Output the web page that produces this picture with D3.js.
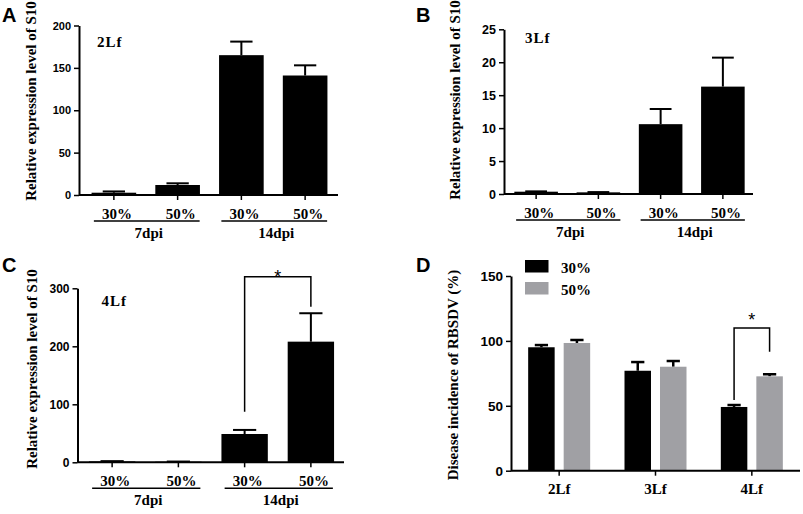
<!DOCTYPE html>
<html><head><meta charset="utf-8">
<script src="https://cdn.jsdelivr.net/npm/d3@7"></script>
<style>body{margin:0;background:#fff}svg{display:block}</style>
</head><body>
<svg id="chart" width="803" height="514"></svg>
<script>
// ---------- DATA ----------
const treatLabels = ["30%", "50%", "30%", "50%"];
const dpiLabels = ["7dpi", "14dpi"];

const s10_2Lf = [2.7, 11.8, 165, 141];
const s10_2Lf_err = [1.5, 2.0, 16, 12];
const s10_3Lf = [0.35, 0.25, 10.6, 16.3];
const s10_3Lf_err = [0.05, 0.04, 2.3, 4.4];
const s10_4Lf = [1.5, 1.0, 48.8, 208];
const s10_4Lf_err = [0.5, 0.3, 7, 49];

const ticksA = [0, 50, 100, 150, 200];
const ticksB = [0, 5, 10, 15, 20, 25];
const ticksC = [0, 100, 200, 300];
const ticksD = [0, 50, 100, 150];

const leafStages = ["2Lf", "3Lf", "4Lf"];
const shadeLabels = ["30%", "50%"];
const incidence30 = [95.1, 77.0, 49.1];
const incidence30_err = [1.7, 6.7, 1.5];
const incidence50 = [98.4, 80.1, 72.7];
const incidence50_err = [2.3, 4.4, 1.6];

const sigC = {from: 2, to: 3, top: 320, legs: [87, 268]};
const sigD = {stage: "4Lf", top: 110, legs: [54.5, 91.7]};

// ---------- DRAW ----------
const svg = d3.select("#chart");
const SERIF = "'Liberation Serif','Times New Roman',serif";
const SANS = "'Liberation Sans',Arial,sans-serif";

function panelLetter(t, x, y) {
  svg.append("text").attr("x", x).attr("y", y).text(t)
    .attr("font-family", SANS).attr("font-weight", "bold").attr("font-size", 20);
}

function yTitle(t, x, y) {
  svg.append("text").attr("transform", `translate(${x},${y}) rotate(-90)`)
    .attr("text-anchor", "middle").attr("dominant-baseline", "central")
    .attr("font-family", SERIF).attr("font-weight", "bold").attr("font-size", 15)
    .text(t);
}

function yAxis(y, axisX, ticks, fs) {
  const g = svg.append("g").attr("transform", `translate(${axisX},0)`)
    .call(d3.axisLeft(y).tickValues(ticks).tickSize(5).tickSizeOuter(0).tickPadding(3));
  g.select(".domain").attr("stroke", "#000").attr("stroke-width", 2);
  g.selectAll(".tick line").attr("stroke", "#000").attr("stroke-width", 1.5);
  g.selectAll(".tick text").attr("font-family", SANS).attr("font-weight", "bold")
    .attr("font-size", fs).attr("fill", "#000");
}

function xAxisLine(x0, x1, yv, tickXs) {
  svg.append("line").attr("x1", x0).attr("x2", x1).attr("y1", yv).attr("y2", yv)
    .attr("stroke", "#000").attr("stroke-width", 2);
  tickXs.forEach(tx => svg.append("line").attr("x1", tx).attr("x2", tx)
    .attr("y1", yv).attr("y2", yv + 5).attr("stroke", "#000").attr("stroke-width", 1.5));
}

function expressionPanel(cfg) {
  const {vals, errs, ticks, yTop, yBot, axisX, axisEnd, bandRange, fs, lf, lfX, lfY} = cfg;
  const y = d3.scaleLinear().domain([0, ticks[ticks.length - 1]]).range([yBot, yTop]);
  const x = d3.scaleBand().domain(d3.range(vals.length)).range(bandRange)
    .paddingInner(0.3).paddingOuter(0.15);
  const bw = x.bandwidth();
  const cx = i => x(i) + bw / 2;

  // error bars (upper only)
  vals.forEach((v, i) => {
    const top = y(v + errs[i]);
    svg.append("line").attr("x1", cx(i)).attr("x2", cx(i)).attr("y1", y(v)).attr("y2", top)
      .attr("stroke", "#000").attr("stroke-width", 2);
    svg.append("line").attr("x1", cx(i) - bw / 4).attr("x2", cx(i) + bw / 4)
      .attr("y1", top).attr("y2", top).attr("stroke", "#000").attr("stroke-width", 2);
  });
  svg.append("g").selectAll("rect").data(vals).join("rect")
    .attr("x", (d, i) => x(i)).attr("width", bw)
    .attr("y", d => y(d)).attr("height", d => y(0) - y(d)).attr("fill", "#000");

  xAxisLine(axisX, axisEnd, yBot, vals.map((d, i) => cx(i)));
  yAxis(y, axisX, ticks, fs);

  // treatment labels
  treatLabels.forEach((t, i) => {
    svg.append("text").attr("x", cx(i) + 3).attr("y", yBot + 23.5).attr("text-anchor", "middle")
      .attr("font-family", SERIF).attr("font-weight", "bold").attr("font-size", 15).text(t);
  });
  dpiLabels.forEach((t, k) => {
    const a = cx(2 * k), b = cx(2 * k + 1);
    svg.append("line").attr("x1", a - 20).attr("x2", b + 22)
      .attr("y1", yBot + 26).attr("y2", yBot + 26).attr("stroke", "#000").attr("stroke-width", 1.5);
    svg.append("text").attr("x", (a + b) / 2 + 3).attr("y", yBot + 43).attr("text-anchor", "middle")
      .attr("font-family", SERIF).attr("font-weight", "bold").attr("font-size", 15).text(t);
  });

  svg.append("text").attr("x", lfX).attr("y", lfY).text(lf)
    .attr("font-family", SERIF).attr("font-weight", "bold").attr("font-size", 15)
    .attr("letter-spacing", 1);

  return {x, y, cx};
}

// Panel A
panelLetter("A", 2, 22);
yTitle("Relative expression level of S10", 31, 101);
expressionPanel({vals: s10_2Lf, errs: s10_2Lf_err, ticks: ticksA, yTop: 25.5, yBot: 195,
  axisX: 79, axisEnd: 338, bandRange: [82, 337], fs: 11, lf: "2Lf", lfX: 97, lfY: 47});

// Panel B
panelLetter("B", 416, 22);
yTitle("Relative expression level of S10", 454.5, 100);
expressionPanel({vals: s10_3Lf, errs: s10_3Lf_err, ticks: ticksB, yTop: 29.3, yBot: 194,
  axisX: 504, axisEnd: 753, bandRange: [505, 754], fs: 12.5, lf: "3Lf", lfX: 525, lfY: 42.5});

// Panel C
panelLetter("C", 2, 272);
yTitle("Relative expression level of S10", 31.5, 369);
const pc = expressionPanel({vals: s10_4Lf, errs: s10_4Lf_err, ticks: ticksC, yTop: 288.3, yBot: 462.3,
  axisX: 77.5, axisEnd: 344, bandRange: [79, 344], fs: 12, lf: "4Lf", lfX: 101.5, lfY: 305.5});
{
  const a = pc.cx(sigC.from), b = pc.cx(sigC.to);
  svg.append("path").attr("d", `M${a},${pc.y(sigC.legs[0])}V${pc.y(sigC.top)}H${b}V${pc.y(sigC.legs[1])}`)
    .attr("fill", "none").attr("stroke", "#000").attr("stroke-width", 1.5);
  svg.append("text").attr("x", (a + b) / 2).attr("y", pc.y(sigC.top) + 6).attr("text-anchor", "middle")
    .attr("font-family", SANS).attr("font-size", 18).text("*");
}

// Panel D
panelLetter("D", 416, 272);
yTitle("Disease incidence of RBSDV (%)", 452.5, 375);
{
  const y = d3.scaleLinear().domain([0, 150]).range([470.7, 276]);
  const x = d3.scaleBand().domain(leafStages).range([511, 800]);
  const sub = d3.scaleBand().domain(shadeLabels).range([-31, 31]).paddingInner(0.254);
  const colors = ["#000000", "#a0a0a4"];
  const series = [
    {name: shadeLabels[0], vals: incidence30, errs: incidence30_err},
    {name: shadeLabels[1], vals: incidence50, errs: incidence50_err}
  ];
  const gc = s => x(s) + x.bandwidth() / 2;
  const bw = sub.bandwidth();
  series.forEach((se, k) => {
    leafStages.forEach((s, i) => {
      const bx = gc(s) + sub(se.name);
      const c = bx + bw / 2;
      const top = y(se.vals[i] + se.errs[i]);
      svg.append("line").attr("x1", c).attr("x2", c).attr("y1", y(se.vals[i])).attr("y2", top)
        .attr("stroke", "#000").attr("stroke-width", 2.5);
      svg.append("line").attr("x1", c - bw / 4).attr("x2", c + bw / 4).attr("y1", top).attr("y2", top)
        .attr("stroke", "#000").attr("stroke-width", 2.5);
      svg.append("rect").attr("x", bx).attr("width", bw).attr("y", y(se.vals[i]))
        .attr("height", y(0) - y(se.vals[i])).attr("fill", colors[k]);
    });
  });
  xAxisLine(511, 800, 470.7, leafStages.map(gc));
  yAxis(y, 511, ticksD, 13.5);
  leafStages.forEach(s => svg.append("text").attr("x", gc(s)).attr("y", 493.5).attr("text-anchor", "middle")
    .attr("font-family", SERIF).attr("font-weight", "bold").attr("font-size", 15).text(s));

  // legend
  shadeLabels.forEach((t, k) => {
    svg.append("rect").attr("x", 525).attr("y", 260 + k * 22).attr("width", 23.5).attr("height", 12.5)
      .attr("fill", colors[k]);
    svg.append("text").attr("x", 561).attr("y", 272.5 + k * 22.5).text(t)
      .attr("font-family", SERIF).attr("font-weight", "bold").attr("font-size", 15);
  });

  // significance
  const a = gc(sigD.stage) + sub(shadeLabels[0]) + bw / 2;
  const b = gc(sigD.stage) + sub(shadeLabels[1]) + bw / 2;
  svg.append("path").attr("d", `M${a},${y(sigD.legs[0])}V${y(sigD.top)}H${b}V${y(sigD.legs[1])}`)
    .attr("fill", "none").attr("stroke", "#000").attr("stroke-width", 1.5);
  svg.append("text").attr("x", (a + b) / 2).attr("y", y(sigD.top) - 2).attr("text-anchor", "middle")
    .attr("font-family", SANS).attr("font-size", 18).text("*");
}
</script>
</body></html>
